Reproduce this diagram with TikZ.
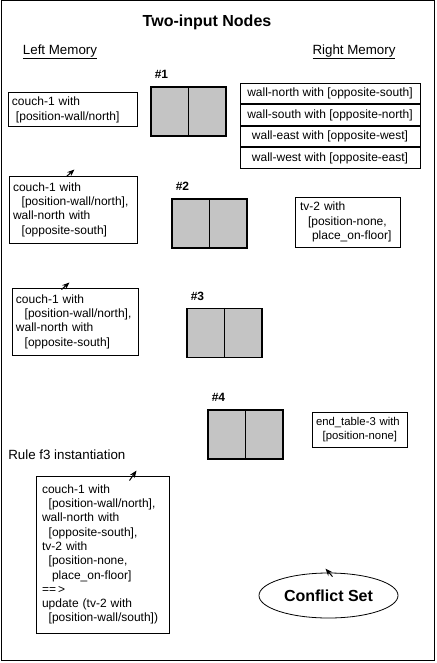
\documentclass[tikz,border=0pt]{standalone}
\usepackage{fontspec}
\setmainfont{Liberation Sans}
\usetikzlibrary{shapes.geometric,arrows.meta,patterns.meta,calc}
\begin{document}
\begin{tikzpicture}[x=0.75pt,y=-0.75pt,
  every node/.style={inner sep=0pt},
  frame/.style={draw,line width=0.75pt},
  mbox/.style={draw,line width=0.75pt,align=left,font=\fontsize{9}{10.7}\selectfont},
  rowbox/.style={draw,line width=0.75pt,minimum width=135pt,minimum height=15.375pt,
    font=\fontsize{9}{10.7}\selectfont,anchor=north},
  grid/.style={draw,line width=0.8pt,minimum width=56.25pt,minimum height=36.75pt,
    pattern={Dots[distance=1.5pt,radius=0.4pt]}},
  gridlbl/.style={font=\bfseries\fontsize{9}{10}\selectfont},
  head/.style={font=\fontsize{10}{12}\selectfont},
  tipline/.style={line width=0.75pt,-{Stealth[length=5.5pt,width=4.2pt]}}
]
\useasboundingbox (0,0) rectangle (436,663);
\draw[frame] (1,1) rectangle (434,660);

% headings
\node[font=\bfseries\fontsize{12}{14}\selectfont] (title) at (207,22) {Two-input Nodes};
\node[head] (lm) at (60,52) {\underline{Left Memory}};
\node[head] (rm) at (354,52) {\underline{Right Memory}};

% left memory boxes
\node[mbox,minimum width=96.75pt,minimum height=25.5pt,text width=90.75pt,inner xsep=3pt] (B1) at (72.5,110)
  {couch-1 with\\\hspace*{3pt}[position-wall/north]};
\node[mbox,minimum width=96pt,minimum height=50.25pt,text width=90pt,inner xsep=3pt] (B2) at (73,209.5)
  {couch-1 with\\\hspace*{6.5pt}[position-wall/north],\\wall-north with\\\hspace*{6.5pt}[opposite-south]};
\node[mbox,minimum width=94.5pt,minimum height=50.25pt,text width=88.5pt,inner xsep=3pt] (B3) at (75,321.5)
  {couch-1 with\\\hspace*{6.5pt}[position-wall/north],\\wall-north with\\\hspace*{6.5pt}[opposite-south]};

% right memory
\node[rowbox] (R1) at (330,83) {wall-north with [opposite-south]};
\node[rowbox] (R2) at (R1.south) {wall-south with [opposite-north]};
\node[rowbox] (R3) at (R2.south) {wall-east with [opposite-west]};
\node[rowbox] (R4) at (R3.south) {wall-west with [opposite-east]};

\node[mbox,minimum width=78.75pt,minimum height=37.5pt,text width=71.25pt,inner xsep=3.75pt] (TV) at (347.5,222)
  {tv-2 with\\\hspace*{6pt}[position-none,\\\hspace*{9pt}place\_on-floor]};
\node[mbox,font=\fontsize{8.5}{10.5}\selectfont,minimum width=71.25pt,minimum height=26.25pt,text width=65.25pt,inner xsep=3pt] (ET) at (359.5,429.5)
  {end\_table-3 with\\\hspace*{5pt}[position-none]};

% two-input nodes
\node[grid] (G1) at (188.5,111.5) {};
\node[grid] (G2) at (209.5,223.5) {};
\node[grid] (G3) at (224.5,333) {};
\node[grid] (G4) at (245.5,434.5) {};
\foreach \g in {G1,G2,G3,G4}{\draw[line width=0.8pt] (\g.north) -- (\g.south);}
\node[gridlbl] (L1) at ($(G1.north west)+(11,-12)$) {\#1};
\node[gridlbl] (L2) at ($(G2.north west)+(11,-12)$) {\#2};
\node[gridlbl] (L3) at ($(G3.north west)+(11,-12)$) {\#3};
\node[gridlbl] (L4) at ($(G4.north west)+(11,-12)$) {\#4};

% rule instantiation
\node[head,anchor=west] (RI) at (8,455) {Rule f3 instantiation};
\node[mbox,minimum width=99.75pt,minimum height=117.75pt,text width=90.75pt,inner xsep=4.5pt] (F) at (102.5,554.5)
  {couch-1 with\\\hspace*{5pt}[position-wall/north],\\wall-north with\\\hspace*{5pt}[opposite-south],\\tv-2 with\\\hspace*{5pt}[position-none,\\\hspace*{7.5pt}place\_on-floor]\\==\,>\\update (tv-2 with\\\hspace*{5pt}[position-wall/south])};

% conflict set
\node[draw,line width=0.6pt,ellipse,minimum width=104.25pt,minimum height=33.75pt,
  font=\bfseries\fontsize{12}{14}\selectfont] (CS) at (328.5,595.5) {Conflict Set};

% small arrow tips
\coordinate (a1s) at ($(B2.north west)+(58,1)$);
\coordinate (a1e) at ($(B2.north west)+(66,-6)$);
\coordinate (a2s) at ($(B3.north west)+(50,2)$);
\coordinate (a2e) at ($(B3.north west)+(58,-5)$);
\coordinate (a3s) at ($(F.north west)+(94,5)$);
\coordinate (a3e) at ($(F.north west)+(101,-5)$);
\coordinate (a4s) at ($(CS.north)+(4,4)$);
\coordinate (a4e) at ($(CS.north)+(-3,-4)$);
\draw[tipline] (a1s) -- (a1e);
\draw[tipline] (a2s) -- (a2e);
\draw[tipline] (a3s) -- (a3e);
\draw[tipline] (a4s) -- (a4e);
\end{tikzpicture}
\end{document}
